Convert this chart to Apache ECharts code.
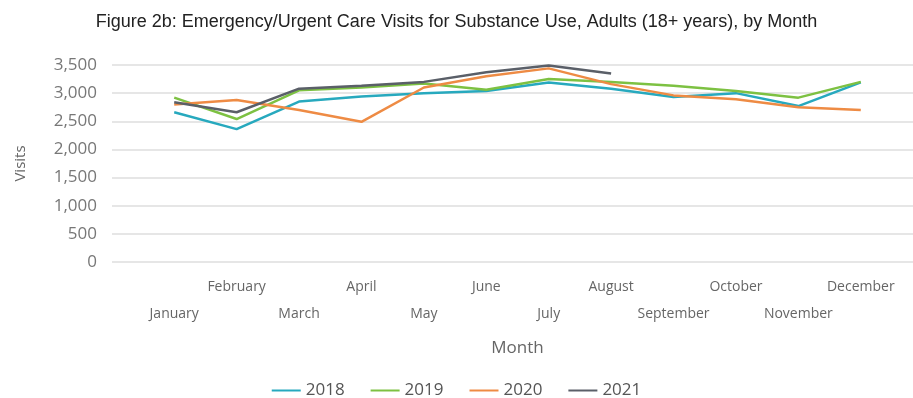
<!DOCTYPE html>
<html>
<head>
<meta charset="utf-8">
<script src="https://cdn.jsdelivr.net/npm/echarts@6/dist/echarts.min.js"></script>
<style>
  html, body { margin: 0; padding: 0; background: #fff; }
  #main { width: 913px; height: 398px; }
</style>
</head>
<body>
<div id="main"></div>
<script>
var months = ['January', 'February', 'March', 'April', 'May', 'June', 'July',
              'August', 'September', 'October', 'November', 'December'];
var visits2018 = [2660, 2360, 2850, 2940, 3000, 3040, 3190, 3080, 2930, 3000, 2770, 3190];
var visits2019 = [2920, 2540, 3050, 3100, 3170, 3060, 3250, 3200, 3130, 3040, 2920, 3200];
var visits2020 = [2800, 2880, 2700, 2490, 3100, 3300, 3440, 3160, 2960, 2890, 2750, 2700];
var visits2021 = [2840, 2660, 3080, 3130, 3200, 3370, 3490, 3350];

var myChart = echarts.init(document.getElementById('main'));

function lineSeries(name, data, color) {
    return {
        name: name,
        type: 'line',
        xAxisIndex: 1,
        yAxisIndex: 1,
        data: data,
        symbol: 'none',
        lineStyle: { color: color, width: 2.5 },
        itemStyle: { color: color }
    };
}

var option = {
    title: {
        text: 'Figure 2b: Emergency/Urgent Care Visits for Substance Use, Adults (18+ years), by Month',
        left: 'center',
        top: 8,
        textStyle: {
            fontFamily: 'Liberation Sans',
            fontSize: 18,
            fontWeight: 'normal',
            color: '#222'
        }
    },
    legend: {
        top: 377,
        left: 'center',
        itemWidth: 29,
        itemHeight: 2,
        itemGap: 26,
        icon: 'rect',
        textStyle: { fontFamily: 'Open Sans', fontSize: 17, color: '#555' },
        data: ['2018', '2019', '2020', '2021']
    },
    // grid 0 carries the gridlines across the full plot, grid 1 the months
    grid: [
        { left: 112, right: 0, top: 65, bottom: 136 },
        { left: 143, right: 21, top: 65, bottom: 136 }
    ],
    xAxis: [
        { type: 'category', gridIndex: 0, data: months, show: false },
        {
            type: 'category',
            gridIndex: 1,
            data: months,
            boundaryGap: true,
            axisLine: { show: false },
            axisTick: { show: false },
            axisLabel: {
                interval: 0,
                margin: 12,
                lineHeight: 27,
                fontFamily: 'Open Sans',
                fontSize: 14,
                color: '#666',
                formatter: function (v, i) { return i % 2 === 0 ? '\n' + v : v; }
            },
            name: 'Month',
            nameLocation: 'middle',
            nameGap: 78,
            nameTextStyle: { fontFamily: 'Open Sans', fontSize: 17, color: '#666' }
        }
    ],
    yAxis: [
        {
            type: 'value',
            gridIndex: 0,
            min: 0,
            max: 3500,
            interval: 500,
            axisLine: { show: false },
            axisTick: { show: false },
            splitLine: { lineStyle: { color: '#dedede', width: 1.5 } },
            axisLabel: {
                margin: 15,
                fontFamily: 'Open Sans',
                fontSize: 17,
                color: '#777',
                formatter: function (v) { return v.toLocaleString('en-US'); }
            },
            name: 'Visits',
            nameLocation: 'middle',
            nameGap: 84,
            nameRotate: 90,
            nameTextStyle: { fontFamily: 'Open Sans', fontSize: 15, color: '#666' }
        },
        {
            type: 'value',
            gridIndex: 1,
            min: 0,
            max: 3500,
            interval: 500,
            show: false
        }
    ],
    series: [
        lineSeries('2018', visits2018, '#27a9be'),
        lineSeries('2019', visits2019, '#7dc142'),
        lineSeries('2020', visits2020, '#ee8b44'),
        lineSeries('2021', visits2021, '#5a5f68')
    ]
};

myChart.setOption(option);
</script>
</body>
</html>
